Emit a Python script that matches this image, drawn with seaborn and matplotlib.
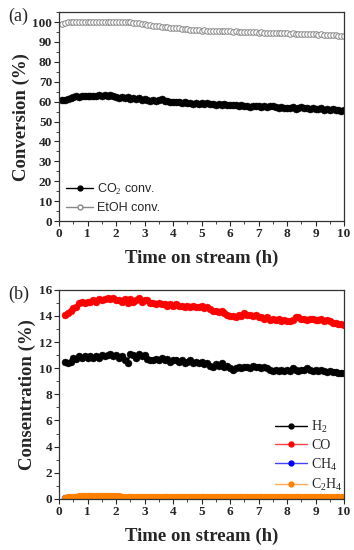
"""Conversion and product concentration vs. time on stream"""

import matplotlib
matplotlib.use('Agg')
import matplotlib.pyplot as plt
import seaborn as sns
from matplotlib.lines import Line2D
from matplotlib.ticker import MultipleLocator

# time on stream (h), sampled every 0.1 h
time = [0.1, 0.2, 0.3, 0.4, 0.5, 0.6, 0.7, 0.8, 0.9, 1.0,
        1.1, 1.2, 1.3, 1.4, 1.5, 1.6, 1.7, 1.8, 1.9, 2.0,
        2.1, 2.2, 2.3, 2.4, 2.5, 2.6, 2.7, 2.8, 2.9, 3.0,
        3.1, 3.2, 3.3, 3.4, 3.5, 3.6, 3.7, 3.8, 3.9, 4.0,
        4.1, 4.2, 4.3, 4.4, 4.5, 4.6, 4.7, 4.8, 4.9, 5.0,
        5.1, 5.2, 5.3, 5.4, 5.5, 5.6, 5.7, 5.8, 5.9, 6.0,
        6.1, 6.2, 6.3, 6.4, 6.5, 6.6, 6.7, 6.8, 6.9, 7.0,
        7.1, 7.2, 7.3, 7.4, 7.5, 7.6, 7.7, 7.8, 7.9, 8.0,
        8.1, 8.2, 8.3, 8.4, 8.5, 8.6, 8.7, 8.8, 8.9, 9.0,
        9.1, 9.2, 9.3, 9.4, 9.5, 9.6, 9.7, 9.8, 9.9, 10.0]

# panel (a): conversion (%)
etoh_conv = [99.2, 99.6, 99.8, 99.9, 100.0, 99.9, 100.0, 100.0, 99.9, 100.0,
             100.0, 99.9, 100.0, 100.0, 99.9, 100.0, 100.0, 99.9, 100.0, 100.0,
             100.0, 99.9, 100.0, 99.9, 99.8, 99.7, 99.5, 99.3, 99.1, 98.9,
             98.6, 98.4, 98.2, 98.0, 97.8, 97.6, 97.4, 97.3, 97.1, 97.0,
             96.9, 96.8, 96.6, 96.5, 96.4, 96.2, 96.1, 96.0, 95.8, 95.7,
             95.8, 95.6, 95.5, 95.6, 95.4, 95.5, 95.3, 95.4, 95.3, 95.3,
             95.2, 95.3, 95.1, 95.0, 95.2, 94.9, 95.0, 94.8, 94.9, 94.7,
             94.8, 94.6, 94.7, 94.5, 94.6, 94.4, 94.5, 94.3, 94.4, 94.4,
             94.2, 94.3, 94.1, 94.2, 94.0, 94.1, 93.9, 94.0, 93.8, 93.9,
             93.7, 93.8, 93.6, 93.5, 93.6, 93.3, 93.4, 93.1, 93.0, 92.8]

co2_conv = [60.6, 60.9, 61.2, 62.0, 62.4, 62.6, 62.3, 62.8, 62.6, 62.9,
            62.7, 63.1, 62.9, 63.2, 63.0, 63.3, 62.9, 63.2, 62.8, 62.5,
            62.0, 62.4, 61.8, 62.2, 61.5, 61.9, 61.3, 61.6, 61.0, 61.2,
            60.8, 60.5, 61.0, 60.3, 60.6, 61.3, 60.4, 60.2, 59.8, 60.0,
            59.6, 59.9, 59.4, 59.7, 59.2, 59.5, 59.0, 59.3, 58.9, 59.1,
            58.8, 59.2, 58.7, 58.9, 58.5, 58.8, 58.4, 58.7, 58.3, 58.5,
            58.2, 58.4, 57.9, 58.3, 57.7, 58.0, 57.5, 57.9, 57.6, 57.7,
            57.4, 57.8, 57.2, 57.6, 57.9, 57.3, 57.0, 57.2, 56.8, 57.0,
            56.7, 57.1, 56.5, 56.8, 57.2, 56.6, 56.9, 56.4, 56.7, 56.5,
            56.2, 56.6, 56.0, 56.4, 55.8, 56.1, 55.6, 55.9, 55.5, 55.7]

# panel (b): concentration (%), starts at 0.2 h
time_b = time[1:]

h2 = [10.5, 10.4, 10.5, 10.8, 10.7, 10.9, 10.8, 10.9, 10.8,
      10.9, 10.8, 10.9, 10.8, 11.0, 10.9, 11.0, 11.1, 10.9, 11.0,
      10.8, 10.9, 10.6, 10.4, 11.1, 11.0, 10.8, 11.1, 10.9, 11.0,
      10.7, 10.6, 10.6, 10.7, 10.6, 10.8, 10.6, 10.7, 10.5, 10.6,
      10.6, 10.5, 10.6, 10.4, 10.5, 10.6, 10.4, 10.5, 10.4, 10.5,
      10.3, 10.4, 10.2, 10.1, 10.3, 10.2, 10.4, 10.1, 10.2, 10.0,
      9.9, 10.0, 10.1, 10.0, 10.1, 10.1, 10.0, 10.2, 10.1, 10.1,
      10.0, 10.1, 10.0, 9.9, 9.8, 9.9, 9.8, 9.9, 9.8, 9.9,
      9.8, 10.0, 9.9, 9.8, 9.9, 9.9, 10.0, 9.9, 9.8, 9.9,
      9.8, 9.9, 9.8, 9.7, 9.8, 9.7, 9.7, 9.6, 9.6, 9.6]

co = [14.1, 14.2, 14.4, 14.6, 14.7, 15.0, 15.1, 15.0, 15.1,
      15.1, 15.2, 15.1, 15.3, 15.2, 15.3, 15.4, 15.3, 15.4, 15.2,
      15.2, 15.1, 15.3, 15.0, 15.3, 15.1, 15.2, 15.4, 15.1, 15.2,
      15.2, 15.0, 15.0, 14.9, 15.0, 14.9, 14.9, 14.8, 14.9, 14.8,
      14.9, 14.8, 14.8, 14.7, 14.8, 14.7, 14.8, 14.7, 14.7, 14.8,
      14.6, 14.7, 14.5, 14.4, 14.4, 14.3, 14.4, 14.2, 14.1, 14.0,
      14.0, 13.9, 14.1, 14.0, 14.2, 14.1, 14.1, 14.0, 14.1, 13.9,
      13.9, 13.8, 13.9, 13.7, 13.8, 13.7, 13.8, 13.6, 13.7, 13.6,
      13.6, 13.7, 13.9, 13.9, 13.8, 13.8, 13.7, 13.8, 13.8, 13.7,
      13.7, 13.8, 13.6, 13.7, 13.6, 13.5, 13.5, 13.4, 13.4, 13.3]

ch4 = [0.05] * 99

c2h4 = [0.10, 0.11, 0.12, 0.13, 0.17, 0.20, 0.22, 0.23, 0.24,
        0.24, 0.23, 0.22, 0.21, 0.21, 0.20, 0.20, 0.19, 0.19, 0.18,
        0.18, 0.17, 0.17, 0.16, 0.16, 0.15, 0.15, 0.14, 0.14, 0.13,
        0.13, 0.13, 0.13, 0.13, 0.13, 0.13, 0.13, 0.13, 0.13, 0.13,
        0.13, 0.13, 0.13, 0.13, 0.13, 0.13, 0.13, 0.13, 0.13, 0.13,
        0.13, 0.13, 0.13, 0.13, 0.13, 0.13, 0.13, 0.13, 0.13, 0.13,
        0.13, 0.13, 0.13, 0.13, 0.13, 0.13, 0.13, 0.13, 0.13, 0.13,
        0.13, 0.13, 0.13, 0.13, 0.13, 0.13, 0.13, 0.13, 0.13, 0.13,
        0.13, 0.13, 0.13, 0.13, 0.13, 0.13, 0.13, 0.13, 0.13, 0.13,
        0.13, 0.13, 0.13, 0.13, 0.13, 0.13, 0.13, 0.13, 0.13, 0.13]

x_ticks = [0, 1, 2, 3, 4, 5, 6, 7, 8, 9, 10]

sns.set_style('ticks')
plt.rcParams['font.family'] = ['Liberation Serif', 'DejaVu Serif']
plt.rcParams['mathtext.fontset'] = 'custom'
plt.rcParams['mathtext.rm'] = 'Liberation Serif'

fig = plt.figure(figsize=(3.54, 5.5), dpi=100)
ax_a = fig.add_axes([0.167, 0.598, 0.805, 0.38])
ax_b = fig.add_axes([0.167, 0.093, 0.805, 0.38])


def style_axis(ax, ylim, ymajor, yminor, ylabel):
    ax.set_xlim(0, 10)
    ax.set_ylim(*ylim)
    ax.set_xticks(x_ticks)
    ax.xaxis.set_minor_locator(MultipleLocator(0.5))
    ax.yaxis.set_major_locator(MultipleLocator(ymajor))
    ax.yaxis.set_minor_locator(MultipleLocator(yminor))
    ax.tick_params(which='major', direction='out', length=3.5, width=0.8,
                   labelsize=9.5, pad=1.5)
    ax.tick_params(which='minor', direction='out', length=2, width=0.6)
    for lab in ax.get_xticklabels() + ax.get_yticklabels():
        lab.set_fontweight('bold')
    for sp in ax.spines.values():
        sp.set_visible(True)
        sp.set_linewidth(0.9)
        sp.set_color('#333333')
    ax.set_xlabel('Time on stream (h)', fontsize=13.5, fontweight='bold', labelpad=7)
    ax.set_ylabel(ylabel, fontsize=13.5, fontweight='bold', labelpad=2)


# ---- panel (a)
sns.lineplot(x=time, y=co2_conv, ax=ax_a, color='black', marker='o',
             markersize=5, markeredgewidth=0.4, markeredgecolor='black',
             linewidth=1.2, sort=False, estimator=None)
sns.lineplot(x=time, y=etoh_conv, ax=ax_a, color='#999999', marker='o',
             markersize=4, markerfacecolor='white', markeredgewidth=0.7,
             markeredgecolor='#888888', linewidth=0.8, sort=False, estimator=None)
style_axis(ax_a, (0, 105), 10, 5, 'Conversion (%)')
ax_a.set_yticks([0, 10, 20, 30, 40, 50, 60, 70, 80, 90, 100])
for lab in ax_a.get_yticklabels():
    lab.set_fontweight('bold')

handles_a = [
    Line2D([], [], color='black', marker='o', markersize=3.5, linewidth=1),
    Line2D([], [], color='#888888', marker='o', markersize=3.5,
           markerfacecolor='white', linewidth=1),
]
ax_a.legend(handles_a, ['CO$_2$ conv.', 'EtOH conv.'], loc='lower left',
            frameon=False, prop={'family': 'Liberation Sans', 'size': 9},
            handlelength=2.2, handletextpad=0.3, labelspacing=0.45,
            borderaxespad=0.15)
ax_a.text(-0.142, 0.98, '(a)', transform=ax_a.transAxes, fontsize=13,
          va='center', ha='center')

# ---- panel (b)
series_b = [('H$_2$', h2, 'black', 'black'),
            ('CO', co, 'red', '#ff4444'),
            ('CH$_4$', ch4, 'blue', '#4444ff'),
            ('C$_2$H$_4$', c2h4, '#ff8000', '#ffaa55')]
for label, vals, col, lcol in series_b:
    sns.lineplot(x=time_b, y=vals, ax=ax_b, color=lcol, marker='o',
                 markersize=5, markerfacecolor=col, markeredgecolor=col,
                 markeredgewidth=0.3, linewidth=1.2, sort=False, estimator=None)
style_axis(ax_b, (0, 16), 2, 1, 'Consentration (%)')

handles_b = [Line2D([], [], color=lcol, marker='o', markersize=3.5,
                    markerfacecolor=col, markeredgecolor=col, linewidth=1)
             for _, _, col, lcol in series_b]
ax_b.legend(handles_b, [s[0] for s in series_b], loc='lower right',
            frameon=False, prop={'family': 'Liberation Serif', 'size': 10},
            handlelength=2.3, handletextpad=0.3, labelspacing=0.3,
            borderaxespad=0.0, bbox_to_anchor=(1.015, 0.0))
ax_b.text(-0.142, 0.98, '(b)', transform=ax_b.transAxes, fontsize=13,
          va='center', ha='center')

fig.savefig('out.png', dpi=100)
